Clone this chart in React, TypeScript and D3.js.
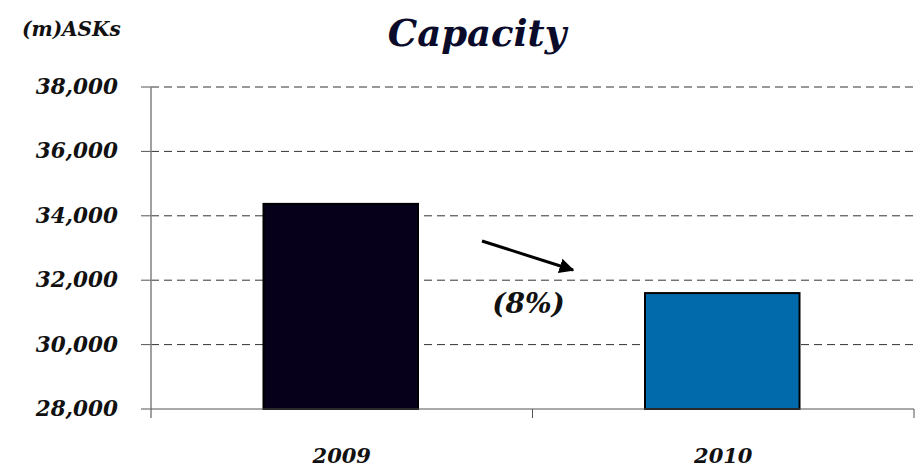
import React from "react";
import * as d3 from "d3";

const categories = ["2009", "2010"];
const values = [34370, 31600];
const barColors = ["#06001a", "#006aab"];
const yTicks = [28000, 30000, 32000, 34000, 36000, 38000];
const title = "Capacity";
const unitLabel = "(m)ASKs";
const changeLabel = "(8%)";

const W = 916;
const H = 468;
const FONT = "'DejaVu Serif', Georgia, serif";

export default function App() {
  const x = d3.scaleBand().domain(categories).range([151, 914]).paddingInner(0).paddingOuter(0);
  const y = d3.scaleLinear().domain([28000, 38000]).range([409, 87]);
  const barW = x.bandwidth() * 0.405;
  const fmt = d3.format(",");
  const c1 = x(categories[0])! + x.bandwidth() / 2;
  const c2 = x(categories[1])! + x.bandwidth() / 2;

  return (
    <svg width={W} height={H} style={{ position: "absolute", left: 0, top: 0, background: "#fff" }}>
      <defs>
        <marker id="ah" viewBox="0 0 10 10" refX="9" refY="5" markerWidth="5" markerHeight="5" orient="auto">
          <path d="M0,0 L10,5 L0,10 z" fill="#000" />
        </marker>
      </defs>
      <text x={477} y={46} textAnchor="middle" fontFamily={FONT} fontWeight="bold" fontStyle="italic" fontSize={37} fill="#0a0a2a">
        {title}
      </text>
      <text x={22} y={36} fontFamily={FONT} fontWeight="bold" fontStyle="italic" fontSize={20} fill="#111">
        {unitLabel}
      </text>
      {yTicks.map((t) => (
        <g key={t}>
          {t !== 28000 && (
            <line x1={151} x2={914} y1={y(t)} y2={y(t)} stroke="#333" strokeWidth={1} strokeDasharray="8,5" />
          )}
          <line x1={141} x2={151} y1={y(t)} y2={y(t)} stroke="#555" strokeWidth={1} />
          <text x={118} y={y(t) + 7} textAnchor="end" fontFamily={FONT} fontWeight="bold" fontStyle="italic" fontSize={21.5} fill="#111">
            {fmt(t)}
          </text>
        </g>
      ))}
      <line x1={151} x2={151} y1={87} y2={418} stroke="#808080" strokeWidth={1.5} />
      {categories.map((c, i) => (
        <rect
          key={c}
          x={x(c)! + x.bandwidth() / 2 - barW / 2 - 1}
          y={y(values[i])}
          width={barW}
          height={y(28000) - y(values[i])}
          fill={barColors[i]}
          stroke="#000"
          strokeWidth={2}
        />
      ))}
      <line x1={151} x2={914} y1={409} y2={409} stroke="#555" strokeWidth={1.2} />
      {[x(categories[1])!, 914].map((tx, i) => (
        <line key={i} x1={tx} x2={tx} y1={409} y2={418} stroke="#555" strokeWidth={1} />
      ))}
      {categories.map((c) => (
        <text key={c} x={x(c)! + x.bandwidth() / 2} y={463} textAnchor="middle" fontFamily={FONT} fontWeight="bold" fontStyle="italic" fontSize={21} fill="#111">
          {c}
        </text>
      ))}
      <line x1={482} y1={241} x2={573} y2={270} stroke="#000" strokeWidth={3} markerEnd="url(#ah)" />
      <text x={(c1 + c2) / 2 - 4} y={313} textAnchor="middle" fontFamily={FONT} fontWeight="bold" fontStyle="italic" fontSize={28} fill="#111">
        {changeLabel}
      </text>
    </svg>
  );
}
